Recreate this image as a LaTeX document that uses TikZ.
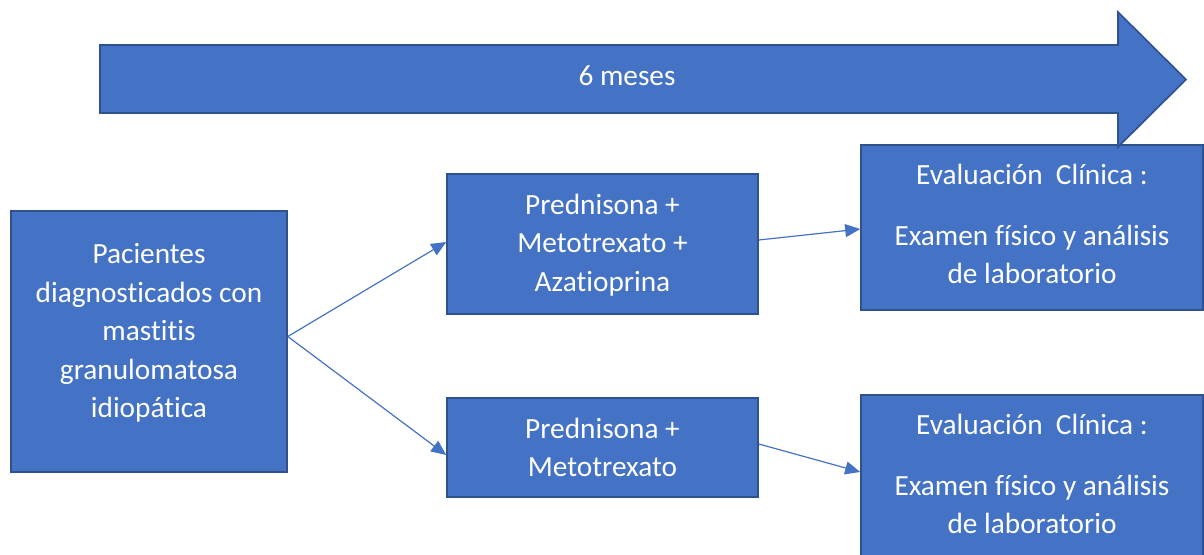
\documentclass[tikz,border=0pt]{standalone}
\usepackage{fontspec}
\setmainfont{Carlito}[RawFeature={-liga}]
\usetikzlibrary{arrows.meta,calc}
\definecolor{boxfill}{HTML}{4472C4}
\definecolor{boxline}{HTML}{2F528F}
\tikzset{
  box/.style={draw=boxline, fill=boxfill, line width=1.6pt, rectangle, inner sep=0pt},
  boxtext/.style={text=white, align=center, font=\fontsize{29.3pt}{38.5pt}\selectfont, inner sep=0pt},
  conn/.style={draw=boxfill, line width=1.2pt, -{Triangle[length=15pt,width=13pt]}},
}
\begin{document}
\begin{tikzpicture}[x=1pt,y=-1pt]
\useasboundingbox (0,0) rectangle (1204,554);
\clip (0,0) rectangle (1204,554);
% boxes
\node[box, minimum width=276pt, minimum height=261pt] (pac) at (149,341.5) {};
\node[box, minimum width=311pt, minimum height=140pt] (pma) at (602.5,244) {};
\node[box, minimum width=311pt, minimum height=99pt] (pm) at (602.5,447.5) {};
\node[box, minimum width=342pt, minimum height=165pt] (ev1) at (1032,227.5) {};
\node[box, minimum width=342pt, minimum height=165pt] (ev2) at (1032,477.5) {};
% big arrow
\path[draw=boxline, fill=boxfill, line width=1.6pt, line join=miter]
  (100,45) -- (1118,45) -- (1118,12) -- (1186,79.5) -- (1118,147) -- (1118,113) -- (100,113) -- cycle;
\node[boxtext] (meses) at (627,76) {6 meses};
% texts
\node[boxtext] (tpac) at (149,333) {Pacientes\\diagnosticados con\\mastitis\\granulomatosa\\idiopática};
\node[boxtext] (tpma) at (602.5,245) {Prednisona +\\Metotrexato +\\Azatioprina};
\node[boxtext] (tpm) at (602.5,447.5) {Prednisona +\\Metotrexato};
\node[boxtext] (tev1) at (1032,224) {Evaluación\ \ Clínica :\\[22.5pt]Examen físico y análisis\\de laboratorio};
\node[boxtext] (tev2) at (1032,474) {Evaluación\ \ Clínica :\\[22.5pt]Examen físico y análisis\\de laboratorio};
% connectors
\draw[conn] ($(pac.east)+(0,-5)$) -- ($(pma.west)+(0,-2)$);
\draw[conn] ($(pac.east)+(0,-5)$) -- ($(pm.west)+(0,7.5)$);
\draw[conn] ($(pma.east)+(0,-4)$) -- ($(ev1.west)+(0,1.5)$);
\draw[conn] ($(pm.east)+(0,-3.5)$) -- ($(ev2.west)+(0,-5.5)$);
\end{tikzpicture}
\end{document}
